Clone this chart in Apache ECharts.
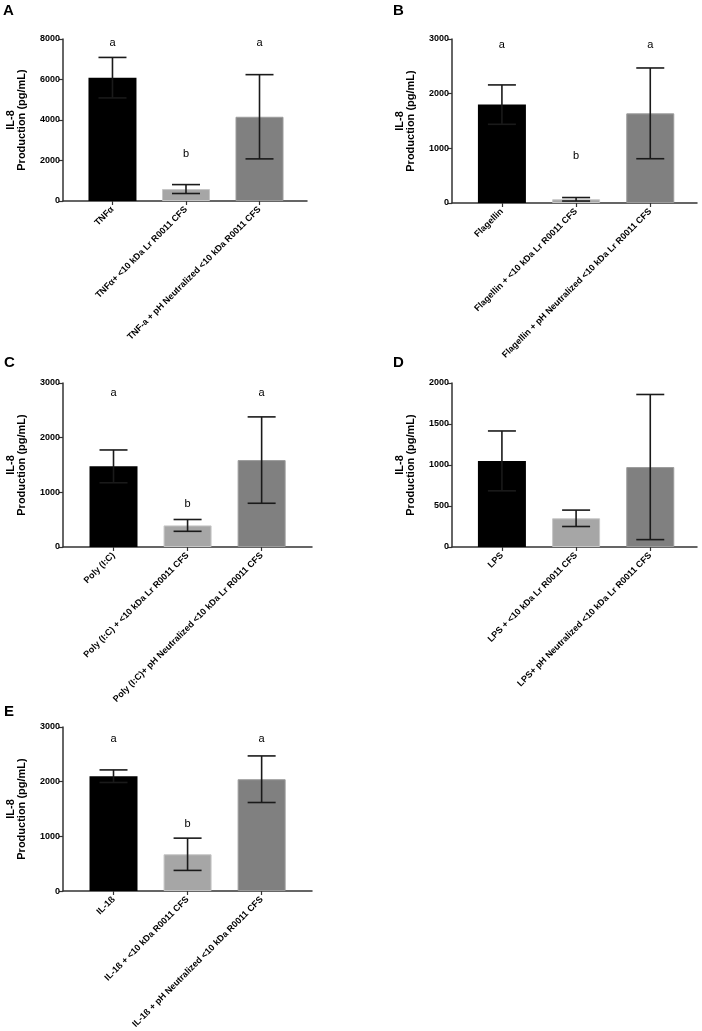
<!DOCTYPE html>
<html>
<head>
<meta charset="utf-8">
<script src="https://cdn.jsdelivr.net/npm/echarts@6/dist/echarts.min.js"></script>
<style>
  html, body { margin: 0; padding: 0; background: #fff; }
  #chart { width: 702px; height: 1031px; }
</style>
</head>
<body>
<div id="chart"></div>
<script>
// Panel A - TNFa
const catsA = ['TNF\u03b1', 'TNF\u03b1+ <10 kDa Lr R0011 CFS', 'TNF-a + pH Neutralized <10 kDa R0011 CFS'];
const meanA = [6090, 590, 4160];
const sdA = [1000, 220, 2080];
const lettersA = ['a', 'b', 'a'];
const letterPosA = [7750, 2270, 7750];

// Panel B - Flagellin
const catsB = ['Flagellin', 'Flagellin + <10 kDa Lr R0011 CFS', 'Flagellin + pH Neutralized <10 kDa Lr R0011 CFS'];
const meanB = [1800, 68, 1640];
const sdB = [360, 32, 830];
const lettersB = ['a', 'b', 'a'];
const letterPosB = [2870, 840, 2870];

// Panel C - Poly (I:C)
const catsC = ['Poly (I:C)', 'Poly (I:C) + <10 kDa Lr R0011 CFS', 'Poly (I:C)+ pH Neutralized <10 kDa Lr R0011 CFS'];
const meanC = [1475, 395, 1590];
const sdC = [300, 108, 790];
const lettersC = ['a', 'b', 'a'];
const letterPosC = [2800, 760, 2800];

// Panel D - LPS (no letters)
const catsD = ['LPS', 'LPS + <10 kDa Lr R0011 CFS', 'LPS+ pH Neutralized <10 kDa Lr R0011 CFS'];
const meanD = [1050, 350, 975];
const sdD = [365, 100, 885];

// Panel E - IL-1b
const catsE = ['IL-1\u00df', 'IL-1\u00df + <10 kDa R0011 CFS', 'IL-1\u00df + pH Neutralized <10 kDa R0011 CFS'];
const meanE = [2100, 672, 2045];
const sdE = [115, 295, 426];
const lettersE = ['a', 'b', 'a'];
const letterPosE = [2770, 1200, 2770];

const FONT = 'Liberation Sans, Arial, Helvetica, sans-serif';
const barColors = ['#000000', '#a6a6a6', '#808080'];
const barBorders = ['#000000', '#c6c6c6', '#9c9c9c'];

const panels = [
  { cats: catsA, mean: meanA, sd: sdA, letters: lettersA, letterPos: letterPosA, yMax: 8000, yStep: 2000,
    grid: { left: 63, top: 39, width: 244, height: 162 }, xMin: -0.673, xMax: 2.646 },
  { cats: catsB, mean: meanB, sd: sdB, letters: lettersB, letterPos: letterPosB, yMax: 3000, yStep: 1000,
    grid: { left: 452, top: 39, width: 245, height: 164 }, xMin: -0.673, xMax: 2.63 },
  { cats: catsC, mean: meanC, sd: sdC, letters: lettersC, letterPos: letterPosC, yMax: 3000, yStep: 1000,
    grid: { left: 63, top: 383, width: 249, height: 164 }, xMin: -0.682, xMax: 2.68 },
  { cats: catsD, mean: meanD, sd: sdD, letters: null, letterPos: null, yMax: 2000, yStep: 500,
    grid: { left: 452, top: 383, width: 245, height: 164 }, xMin: -0.673, xMax: 2.63 },
  { cats: catsE, mean: meanE, sd: sdE, letters: lettersE, letterPos: letterPosE, yMax: 3000, yStep: 1000,
    grid: { left: 63, top: 727, width: 249, height: 165 }, xMin: -0.682, xMax: 2.68 }
];

const grids = [], xAxes = [], yAxes = [], series = [];

panels.forEach((p, k) => {
  grids.push(Object.assign({ containLabel: false }, p.grid));

  xAxes.push({
    gridIndex: k, type: 'value', min: p.xMin, max: p.xMax,
    splitLine: { show: false },
    axisLine: { show: true, onZero: false, lineStyle: { color: '#333', width: 1.5 } },
    axisTick: { show: true, customValues: [0, 1, 2], length: 4, lineStyle: { color: '#333', width: 1.2 } },
    axisLabel: {
      customValues: [0, 1, 2], rotate: 45, margin: 7,
      fontFamily: FONT, fontWeight: 'bold', fontSize: 9, color: '#000',
      formatter: v => p.cats[Math.round(v)]
    }
  });

  yAxes.push({
    gridIndex: k, type: 'value', min: 0, max: p.yMax, interval: p.yStep,
    splitLine: { show: false },
    axisLine: { show: true, onZero: false, lineStyle: { color: '#333', width: 1.5 } },
    axisTick: { show: true, length: 4, lineStyle: { color: '#333', width: 1.2 } },
    axisLabel: {
      fontFamily: FONT, fontWeight: 'bold', fontSize: 9, color: '#000', margin: 3,
      formatter: v => String(v)
    },
    name: 'IL-8\nProduction (pg/mL)',
    nameLocation: 'middle', nameGap: 36,
    nameTextStyle: { fontFamily: FONT, fontWeight: 'bold', fontSize: 11, lineHeight: 11, color: '#000' }
  });

  series.push({
    type: 'bar', xAxisIndex: k, yAxisIndex: k, barWidth: 48,
    data: p.mean.map((v, i) => ({
      value: [i, v],
      itemStyle: { color: barColors[i], borderColor: barBorders[i], borderWidth: i === 0 ? 0 : 1 }
    }))
  });

  series.push({
    type: 'custom', xAxisIndex: k, yAxisIndex: k, z: 5,
    encode: { x: 0, y: [1, 2] },
    data: p.mean.map((m, i) => [i, m - p.sd[i], m + p.sd[i]]),
    renderItem: (params, api) => {
      const lo = api.coord([api.value(0), api.value(1)]);
      const hi = api.coord([api.value(0), api.value(2)]);
      const half = 14;
      const st = { stroke: '#1a1a1a', lineWidth: 1.6 };
      return {
        type: 'group',
        children: [
          { type: 'line', shape: { x1: hi[0], y1: hi[1], x2: lo[0], y2: lo[1] }, style: st },
          { type: 'line', shape: { x1: hi[0] - half, y1: hi[1], x2: hi[0] + half, y2: hi[1] }, style: st },
          { type: 'line', shape: { x1: lo[0] - half, y1: lo[1], x2: lo[0] + half, y2: lo[1] }, style: st }
        ]
      };
    }
  });

  if (p.letters) {
    series.push({
      type: 'custom', xAxisIndex: k, yAxisIndex: k, z: 6,
      data: p.letterPos.map((y, i) => [i, y]),
      renderItem: (params, api) => {
        const pt = api.coord([api.value(0), api.value(1)]);
        return {
          type: 'text', x: pt[0], y: pt[1] - 1,
          style: {
            text: p.letters[params.dataIndex], fill: '#000',
            font: '11px ' + FONT, align: 'center', verticalAlign: 'middle'
          }
        };
      }
    });
  }
});

const panelLabel = (t, x, y) => ({
  type: 'text', left: x, top: y,
  style: { text: t, font: 'bold 15px ' + FONT, fill: '#000' }
});

const chart = echarts.init(document.getElementById('chart'), null, { renderer: 'canvas' });
chart.setOption({
  backgroundColor: '#fff',
  animation: false,
  grid: grids,
  xAxis: xAxes,
  yAxis: yAxes,
  series: series,
  graphic: [
    panelLabel('A', 3, 3),
    panelLabel('B', 393, 3),
    panelLabel('C', 4, 355),
    panelLabel('D', 393, 355),
    panelLabel('E', 4, 704)
  ]
});
</script>
</body>
</html>
